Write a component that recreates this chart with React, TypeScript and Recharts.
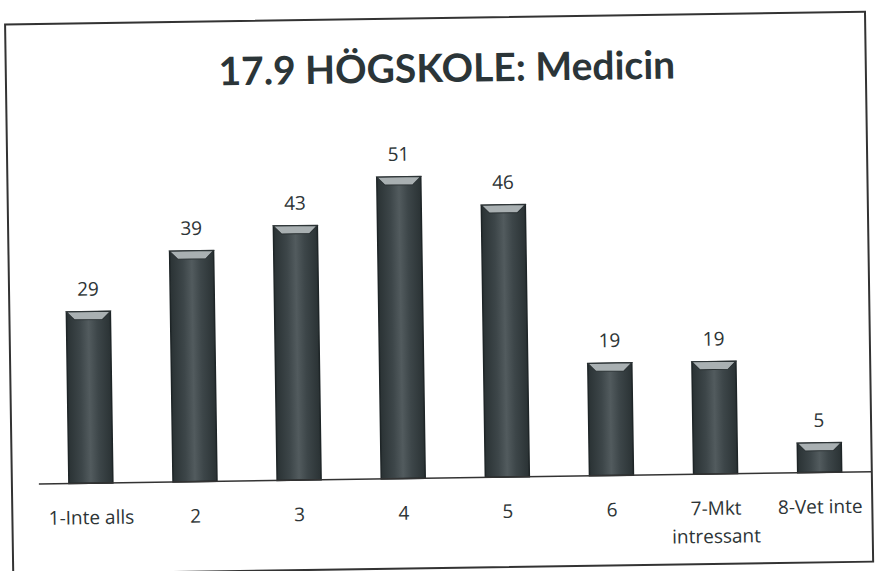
import React from "react";
import { BarChart, Bar, XAxis, YAxis, LabelList } from "recharts";

const categories = ["1-Inte alls", "2", "3", "4", "5", "6", "7-Mkt intressant", "8-Vet inte"];
const values = [29, 39, 43, 51, 46, 19, 19, 5];
const title = "17.9 HÖGSKOLE: Medicin";

const data = categories.map((c, i) => ({ name: c, value: values[i] }));

const FONT = "'Open Sans', Lato, sans-serif";
const TITLE_FONT = "Lato, 'Open Sans', sans-serif";
const TEXT = "#2d3436";

const BevelBar = (props: any) => {
  const { x, y, width, height } = props;
  if (!height || height <= 0) return null;
  const b = Math.min(8, height / 2);
  return (
    <g>
      <rect x={x} y={y} width={width} height={height} fill="url(#barGrad)" stroke="#1e2527" strokeWidth={1.5} />
      <polygon
        points={`${x},${y} ${x + width},${y} ${x + width - b},${y + b} ${x + b},${y + b}`}
        fill="#a9b0b2"
        stroke="#2a3133"
        strokeWidth={1}
      />
    </g>
  );
};

const Tick = (props: any) => {
  const { x, y, payload } = props;
  const v: string = payload.value;
  const lines = v === "7-Mkt intressant" ? ["7-Mkt", "intressant"] : [v];
  return (
    <g>
      {lines.map((l, i) => (
        <text key={i} x={x} y={y + 33 + i * 28} textAnchor="middle" fontFamily={FONT} fontSize={19} fill={TEXT}>
          {l}
        </text>
      ))}
    </g>
  );
};

export default function App() {
  return (
    <div style={{ position: "absolute", left: 0, top: 0, width: 882, height: 571, background: "#fff", overflow: "hidden" }}>
      <div style={{ position: "absolute", left: 0, top: 0, width: 882, height: 571, transform: "rotate(-0.85deg)" }}>
        <div
          style={{
            position: "absolute",
            left: 8,
            top: 17,
            width: 862,
            height: 552,
            border: "2px solid #333",
            boxSizing: "border-box",
          }}
        />
        <div
          style={{
            position: "absolute",
            left: 0,
            top: 44,
            width: 900,
            textAlign: "center",
            fontFamily: TITLE_FONT,
            fontWeight: 700,
            fontSize: 39,
            color: "#2b3538",
          }}
        >
          {title}
        </div>
        <div style={{ position: "absolute", left: 0, top: 0 }}>
          <BarChart width={882} height={571} data={data} margin={{ top: 123, right: 13, bottom: 23, left: 36 }}>
            <defs>
              <linearGradient id="barGrad" x1="0" y1="0" x2="1" y2="0">
                <stop offset="0%" stopColor="#2a3234" />
                <stop offset="30%" stopColor="#3d4649" />
                <stop offset="50%" stopColor="#525b5e" />
                <stop offset="70%" stopColor="#3d4649" />
                <stop offset="100%" stopColor="#2a3234" />
              </linearGradient>
            </defs>
            <YAxis hide domain={[0, 60]} />
            <XAxis
              dataKey="name"
              height={70}
              interval={0}
              tickLine={false}
              axisLine={{ stroke: "#333", strokeWidth: 1.5 }}
              tick={<Tick />}
            />
            <Bar dataKey="value" barSize={44} shape={<BevelBar />} isAnimationActive={false}>
              <LabelList dataKey="value" position="top" offset={16} style={{ fontFamily: FONT, fontSize: 19, fill: TEXT }} />
            </Bar>
          </BarChart>
        </div>
      </div>
    </div>
  );
}
